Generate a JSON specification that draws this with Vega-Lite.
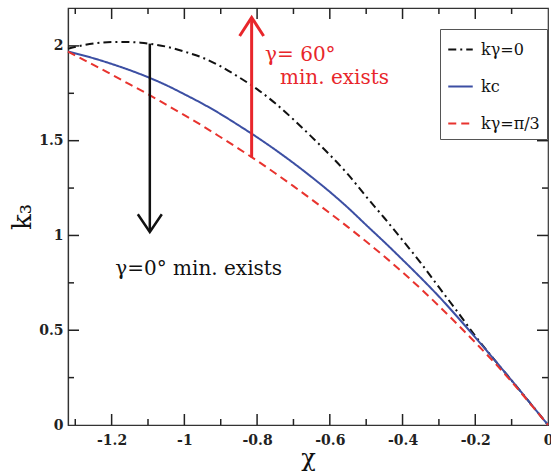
{
  "$schema": "https://vega.github.io/schema/vega-lite/v6.json",
  "width": 480,
  "height": 417,
  "autosize": {"type": "none"},
  "padding": {"left": 68, "top": 8, "right": 3, "bottom": 49},
  "background": "white",
  "config": {
    "view": {"stroke": "#333", "strokeWidth": 1.2},
    "axis": {
      "labelFont": "DejaVu Serif",
      "labelFontSize": 14,
      "labelFontWeight": "bold",
      "labelColor": "#222",
      "titleFont": "DejaVu Serif",
      "titleFontWeight": "normal",
      "titleColor": "#111",
      "domainColor": "#333",
      "domainWidth": 1.2,
      "grid": false,
      "ticks": false
    }
  },
  "datasets": {
    "curves": [
      {"chi": -1.32, "k": 1.985, "curve": "kγ=0"},
      {"chi": -1.28, "k": 2.003, "curve": "kγ=0"},
      {"chi": -1.24, "k": 2.015, "curve": "kγ=0"},
      {"chi": -1.20, "k": 2.020, "curve": "kγ=0"},
      {"chi": -1.16, "k": 2.021, "curve": "kγ=0"},
      {"chi": -1.12, "k": 2.017, "curve": "kγ=0"},
      {"chi": -1.08, "k": 2.007, "curve": "kγ=0"},
      {"chi": -1.04, "k": 1.992, "curve": "kγ=0"},
      {"chi": -1.00, "k": 1.970, "curve": "kγ=0"},
      {"chi": -0.95, "k": 1.938, "curve": "kγ=0"},
      {"chi": -0.90, "k": 1.892, "curve": "kγ=0"},
      {"chi": -0.85, "k": 1.835, "curve": "kγ=0"},
      {"chi": -0.80, "k": 1.772, "curve": "kγ=0"},
      {"chi": -0.75, "k": 1.697, "curve": "kγ=0"},
      {"chi": -0.70, "k": 1.612, "curve": "kγ=0"},
      {"chi": -0.65, "k": 1.520, "curve": "kγ=0"},
      {"chi": -0.60, "k": 1.425, "curve": "kγ=0"},
      {"chi": -0.55, "k": 1.322, "curve": "kγ=0"},
      {"chi": -0.50, "k": 1.205, "curve": "kγ=0"},
      {"chi": -0.45, "k": 1.092, "curve": "kγ=0"},
      {"chi": -0.40, "k": 0.975, "curve": "kγ=0"},
      {"chi": -0.35, "k": 0.855, "curve": "kγ=0"},
      {"chi": -0.30, "k": 0.727, "curve": "kγ=0"},
      {"chi": -0.25, "k": 0.600, "curve": "kγ=0"},
      {"chi": -0.20, "k": 0.470, "curve": "kγ=0"},
      {"chi": -0.15, "k": 0.350, "curve": "kγ=0"},
      {"chi": -0.10, "k": 0.235, "curve": "kγ=0"},
      {"chi": -0.05, "k": 0.118, "curve": "kγ=0"},
      {"chi": 0.00, "k": 0.000, "curve": "kγ=0"},
      {"chi": -1.32, "k": 1.970, "curve": "kc"},
      {"chi": -1.25, "k": 1.935, "curve": "kc"},
      {"chi": -1.20, "k": 1.905, "curve": "kc"},
      {"chi": -1.15, "k": 1.872, "curve": "kc"},
      {"chi": -1.10, "k": 1.835, "curve": "kc"},
      {"chi": -1.05, "k": 1.793, "curve": "kc"},
      {"chi": -1.00, "k": 1.745, "curve": "kc"},
      {"chi": -0.95, "k": 1.695, "curve": "kc"},
      {"chi": -0.90, "k": 1.640, "curve": "kc"},
      {"chi": -0.85, "k": 1.580, "curve": "kc"},
      {"chi": -0.80, "k": 1.518, "curve": "kc"},
      {"chi": -0.75, "k": 1.452, "curve": "kc"},
      {"chi": -0.70, "k": 1.382, "curve": "kc"},
      {"chi": -0.65, "k": 1.308, "curve": "kc"},
      {"chi": -0.60, "k": 1.230, "curve": "kc"},
      {"chi": -0.55, "k": 1.146, "curve": "kc"},
      {"chi": -0.50, "k": 1.055, "curve": "kc"},
      {"chi": -0.45, "k": 0.965, "curve": "kc"},
      {"chi": -0.40, "k": 0.872, "curve": "kc"},
      {"chi": -0.35, "k": 0.777, "curve": "kc"},
      {"chi": -0.30, "k": 0.678, "curve": "kc"},
      {"chi": -0.25, "k": 0.572, "curve": "kc"},
      {"chi": -0.20, "k": 0.462, "curve": "kc"},
      {"chi": -0.15, "k": 0.350, "curve": "kc"},
      {"chi": -0.10, "k": 0.235, "curve": "kc"},
      {"chi": -0.05, "k": 0.118, "curve": "kc"},
      {"chi": 0.00, "k": 0.000, "curve": "kc"},
      {"chi": -1.32, "k": 1.970, "curve": "kγ=π/3"},
      {"chi": -1.25, "k": 1.900, "curve": "kγ=π/3"},
      {"chi": -1.20, "k": 1.849, "curve": "kγ=π/3"},
      {"chi": -1.15, "k": 1.797, "curve": "kγ=π/3"},
      {"chi": -1.10, "k": 1.745, "curve": "kγ=π/3"},
      {"chi": -1.05, "k": 1.690, "curve": "kγ=π/3"},
      {"chi": -1.00, "k": 1.635, "curve": "kγ=π/3"},
      {"chi": -0.95, "k": 1.578, "curve": "kγ=π/3"},
      {"chi": -0.90, "k": 1.518, "curve": "kγ=π/3"},
      {"chi": -0.85, "k": 1.457, "curve": "kγ=π/3"},
      {"chi": -0.80, "k": 1.394, "curve": "kγ=π/3"},
      {"chi": -0.75, "k": 1.328, "curve": "kγ=π/3"},
      {"chi": -0.70, "k": 1.260, "curve": "kγ=π/3"},
      {"chi": -0.65, "k": 1.190, "curve": "kγ=π/3"},
      {"chi": -0.60, "k": 1.118, "curve": "kγ=π/3"},
      {"chi": -0.55, "k": 1.044, "curve": "kγ=π/3"},
      {"chi": -0.50, "k": 0.968, "curve": "kγ=π/3"},
      {"chi": -0.45, "k": 0.889, "curve": "kγ=π/3"},
      {"chi": -0.40, "k": 0.806, "curve": "kγ=π/3"},
      {"chi": -0.35, "k": 0.719, "curve": "kγ=π/3"},
      {"chi": -0.30, "k": 0.628, "curve": "kγ=π/3"},
      {"chi": -0.25, "k": 0.533, "curve": "kγ=π/3"},
      {"chi": -0.20, "k": 0.435, "curve": "kγ=π/3"},
      {"chi": -0.15, "k": 0.335, "curve": "kγ=π/3"},
      {"chi": -0.10, "k": 0.228, "curve": "kγ=π/3"},
      {"chi": -0.05, "k": 0.115, "curve": "kγ=π/3"},
      {"chi": 0.00, "k": 0.000, "curve": "kγ=π/3"}
    ],
    "shafts": [
      {"arrow": "black", "chi": -1.095, "k": 2.012, "k2": 1.022},
      {"arrow": "red", "chi": -0.815, "k": 1.412, "k2": 2.145}
    ],
    "heads": [
      {"arrow": "black", "chi": -1.128, "k": 1.112},
      {"arrow": "black", "chi": -1.095, "k": 1.018},
      {"arrow": "black", "chi": -1.062, "k": 1.112},
      {"arrow": "red", "chi": -0.848, "k": 2.052},
      {"arrow": "red", "chi": -0.815, "k": 2.150},
      {"arrow": "red", "chi": -0.782, "k": 2.052}
    ],
    "notes": [
      {"who": "black", "note": "γ=0° min. exists", "chi": -1.19, "k": 0.79},
      {"who": "red", "note": "γ= 60°", "chi": -0.778, "k": 1.92},
      {"who": "red", "note": "min. exists", "chi": -0.737, "k": 1.80}
    ],
    "xticks": [
      {"chi": -1.2, "k": 0, "kind": "major"}, {"chi": -1.0, "k": 0, "kind": "major"}, {"chi": -0.8, "k": 0, "kind": "major"},
      {"chi": -0.6, "k": 0, "kind": "major"}, {"chi": -0.4, "k": 0, "kind": "major"}, {"chi": -0.2, "k": 0, "kind": "major"},
      {"chi": -1.2, "k": 2.2, "kind": "major"}, {"chi": -1.0, "k": 2.2, "kind": "major"}, {"chi": -0.8, "k": 2.2, "kind": "major"},
      {"chi": -0.6, "k": 2.2, "kind": "major"}, {"chi": -0.4, "k": 2.2, "kind": "major"}, {"chi": -0.2, "k": 2.2, "kind": "major"},
      {"chi": -1.3, "k": 0, "kind": "minor"}, {"chi": -1.1, "k": 0, "kind": "minor"}, {"chi": -0.9, "k": 0, "kind": "minor"},
      {"chi": -0.7, "k": 0, "kind": "minor"}, {"chi": -0.5, "k": 0, "kind": "minor"}, {"chi": -0.3, "k": 0, "kind": "minor"},
      {"chi": -0.1, "k": 0, "kind": "minor"},
      {"chi": -1.3, "k": 2.2, "kind": "minor"}, {"chi": -1.1, "k": 2.2, "kind": "minor"}, {"chi": -0.9, "k": 2.2, "kind": "minor"},
      {"chi": -0.7, "k": 2.2, "kind": "minor"}, {"chi": -0.5, "k": 2.2, "kind": "minor"}, {"chi": -0.3, "k": 2.2, "kind": "minor"},
      {"chi": -0.1, "k": 2.2, "kind": "minor"}
    ],
    "yticks": [
      {"chi": -1.32, "k": 0.5, "kind": "major"}, {"chi": -1.32, "k": 1.0, "kind": "major"}, {"chi": -1.32, "k": 1.5, "kind": "major"}, {"chi": -1.32, "k": 2.0, "kind": "major"},
      {"chi": 0, "k": 0.5, "kind": "major"}, {"chi": 0, "k": 1.0, "kind": "major"}, {"chi": 0, "k": 1.5, "kind": "major"}, {"chi": 0, "k": 2.0, "kind": "major"},
      {"chi": -1.32, "k": 0.25, "kind": "minor"}, {"chi": -1.32, "k": 0.75, "kind": "minor"}, {"chi": -1.32, "k": 1.25, "kind": "minor"}, {"chi": -1.32, "k": 1.75, "kind": "minor"},
      {"chi": 0, "k": 0.25, "kind": "minor"}, {"chi": 0, "k": 0.75, "kind": "minor"}, {"chi": 0, "k": 1.25, "kind": "minor"}, {"chi": 0, "k": 1.75, "kind": "minor"}
    ]
  },
  "layer": [
    {
      "data": {"name": "curves"},
      "mark": {"type": "line", "strokeWidth": 2, "interpolate": "monotone"},
      "encoding": {
        "x": {
          "field": "chi", "type": "quantitative",
          "scale": {"domain": [-1.32, 0], "nice": false, "zero": false},
          "axis": {
            "orient": "bottom",
            "title": "χ",
            "titleFontSize": 24,
            "titlePadding": -1,
            "values": [-1.2, -1.0, -0.8, -0.6, -0.4, -0.2, 0],
            "format": "~g",
            "labelExpr": "replace(datum.label, '−', '-')",
            "labelPadding": 8,
            "labelFlush": false,
            "labelOverlap": false
          }
        },
        "y": {
          "field": "k", "type": "quantitative",
          "scale": {"domain": [0, 2.2], "nice": false},
          "axis": {
            "orient": "left",
            "title": "k₃",
            "titleFontSize": 26,
            "titlePadding": 3,
            "values": [0, 0.5, 1, 1.5, 2],
            "format": "~g",
            "labelPadding": 5,
            "labelOverlap": false
          }
        },
        "color": {
          "field": "curve", "type": "nominal",
          "scale": {"domain": ["kγ=0", "kc", "kγ=π/3"], "range": ["#111111", "#3c4fa3", "#e8332e"]},
          "legend": {
            "title": null,
            "orient": "none",
            "legendX": 372,
            "legendY": 21,
            "symbolType": "stroke",
            "symbolSize": 600,
            "symbolStrokeWidth": 2,
            "labelFont": "DejaVu Serif",
            "labelFontSize": 16,
            "labelColor": "#111",
            "labelOffset": 7,
            "rowPadding": 15,
            "padding": 7,
            "strokeColor": "#555",
            "fillColor": "white",
            "labelLimit": 200
          }
        },
        "strokeDash": {
          "field": "curve", "type": "nominal",
          "scale": {"domain": ["kγ=0", "kc", "kγ=π/3"], "range": [[8, 4, 2, 4], [1, 0], [8, 5]]},
          "legend": {
            "title": null,
            "orient": "none",
            "legendX": 372,
            "legendY": 21
          }
        }
      }
    },
    {
      "data": {"name": "xticks"},
      "transform": [{"filter": "datum.kind == 'major'"}],
      "mark": {"type": "tick", "orient": "vertical", "size": 22, "thickness": 1.5, "color": "#222", "opacity": 1, "clip": true},
      "encoding": {"x": {"field": "chi", "type": "quantitative"}, "y": {"field": "k", "type": "quantitative"}}
    },
    {
      "data": {"name": "xticks"},
      "transform": [{"filter": "datum.kind == 'minor'"}],
      "mark": {"type": "tick", "orient": "vertical", "size": 12, "thickness": 1.5, "color": "#222", "opacity": 1, "clip": true},
      "encoding": {"x": {"field": "chi", "type": "quantitative"}, "y": {"field": "k", "type": "quantitative"}}
    },
    {
      "data": {"name": "yticks"},
      "transform": [{"filter": "datum.kind == 'major'"}],
      "mark": {"type": "tick", "orient": "horizontal", "size": 22, "thickness": 1.5, "color": "#222", "opacity": 1, "clip": true},
      "encoding": {"x": {"field": "chi", "type": "quantitative"}, "y": {"field": "k", "type": "quantitative"}}
    },
    {
      "data": {"name": "yticks"},
      "transform": [{"filter": "datum.kind == 'minor'"}],
      "mark": {"type": "tick", "orient": "horizontal", "size": 12, "thickness": 1.5, "color": "#222", "opacity": 1, "clip": true},
      "encoding": {"x": {"field": "chi", "type": "quantitative"}, "y": {"field": "k", "type": "quantitative"}}
    },
    {
      "data": {"name": "shafts"},
      "transform": [{"filter": "datum.arrow == 'black'"}],
      "mark": {"type": "rule", "color": "#111", "strokeWidth": 2.5},
      "encoding": {
        "x": {"field": "chi", "type": "quantitative"},
        "y": {"field": "k", "type": "quantitative"},
        "y2": {"field": "k2"}
      }
    },
    {
      "data": {"name": "shafts"},
      "transform": [{"filter": "datum.arrow == 'red'"}],
      "mark": {"type": "rule", "color": "#e8262b", "strokeWidth": 3},
      "encoding": {
        "x": {"field": "chi", "type": "quantitative"},
        "y": {"field": "k", "type": "quantitative"},
        "y2": {"field": "k2"}
      }
    },
    {
      "data": {"name": "heads"},
      "transform": [{"filter": "datum.arrow == 'black'"}],
      "mark": {"type": "line", "color": "#111", "strokeWidth": 2.5},
      "encoding": {
        "x": {"field": "chi", "type": "quantitative"},
        "y": {"field": "k", "type": "quantitative"}
      }
    },
    {
      "data": {"name": "heads"},
      "transform": [{"filter": "datum.arrow == 'red'"}],
      "mark": {"type": "line", "color": "#e8262b", "strokeWidth": 3},
      "encoding": {
        "x": {"field": "chi", "type": "quantitative"},
        "y": {"field": "k", "type": "quantitative"}
      }
    },
    {
      "data": {"name": "notes"},
      "transform": [{"filter": "datum.who == 'black'"}],
      "mark": {"type": "text", "align": "left", "baseline": "alphabetic", "font": "DejaVu Serif", "fontSize": 20, "color": "#111"},
      "encoding": {
        "x": {"field": "chi", "type": "quantitative"},
        "y": {"field": "k", "type": "quantitative"},
        "text": {"field": "note"}
      }
    },
    {
      "data": {"name": "notes"},
      "transform": [{"filter": "datum.who == 'red'"}],
      "mark": {"type": "text", "align": "left", "baseline": "alphabetic", "font": "DejaVu Serif", "fontSize": 20, "color": "#e8262b"},
      "encoding": {
        "x": {"field": "chi", "type": "quantitative"},
        "y": {"field": "k", "type": "quantitative"},
        "text": {"field": "note"}
      }
    }
  ]
}
